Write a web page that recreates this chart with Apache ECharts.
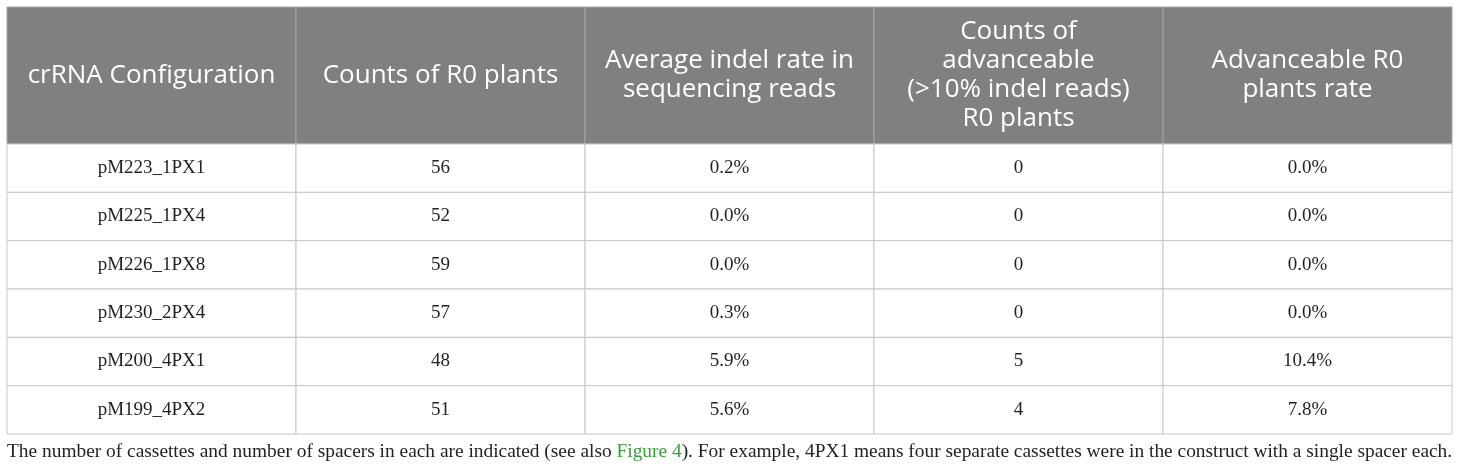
<!DOCTYPE html>
<html lang="en">
<head>
  <meta charset="UTF-8">
  <title>crRNA configuration table</title>
  <script src="https://cdn.jsdelivr.net/npm/echarts@6/dist/echarts.min.js"></script>
</head>
<body style="margin:0;width:1460px;height:471px;overflow:hidden;background:#fff;">
  <div id="main" style="width:1460px;height:471px;"></div>
</body>
<script>
  // table contents
  var headers = [
    'crRNA Configuration',
    'Counts of R0 plants',
    'Average indel rate in\nsequencing reads',
    'Counts of\nadvanceable\n(>10% indel reads)\nR0 plants',
    'Advanceable R0\nplants rate'
  ];
  var configs = ['pM223_1PX1', 'pM225_1PX4', 'pM226_1PX8', 'pM230_2PX4', 'pM200_4PX1', 'pM199_4PX2'];
  var plantCounts = [56, 52, 59, 57, 48, 51];
  var indelRates = [0.2, 0.0, 0.0, 0.3, 5.9, 5.6];
  var advanceableCounts = [0, 0, 0, 0, 5, 4];
  var advanceableRates = [0.0, 0.0, 0.0, 0.0, 10.4, 7.8];

  var colIdx = headers.map(function (h, i) { return i; });

  var headerCells = headers.map(function (h, i) { return [i, 0, h]; });
  var bodyCells = [];
  configs.forEach(function (c, r) {
    bodyCells.push([0, r, c]);
    bodyCells.push([1, r, String(plantCounts[r])]);
    bodyCells.push([2, r, indelRates[r].toFixed(1) + '%']);
    bodyCells.push([3, r, String(advanceableCounts[r])]);
    bodyCells.push([4, r, advanceableRates[r].toFixed(1) + '%']);
  });

  function cellRenderer(fill, stroke, font, size, color, lh) {
    return function (params, api) {
      var c = api.coord([api.value(0), api.value(1)]);
      var s = api.size([1, 1]);
      return {
        type: 'group',
        children: [{
          type: 'rect',
          shape: { x: c[0] - s[0] / 2, y: c[1] - s[1] / 2, width: s[0], height: s[1] },
          style: { fill: fill, stroke: stroke, lineWidth: 1 }
        }, {
          type: 'text',
          style: {
            text: api.value(2),
            x: c[0],
            y: c[1],
            align: 'center',
            verticalAlign: 'middle',
            fontFamily: font,
            fontSize: size,
            lineHeight: lh,
            fill: color
          }
        }]
      };
    };
  }

  function hiddenAxis(extra) {
    var a = {
      type: 'category',
      axisLine: { show: false },
      axisTick: { show: false },
      axisLabel: { show: false },
      splitLine: { show: false }
    };
    for (var k in extra) a[k] = extra[k];
    return a;
  }

  var myChart = echarts.init(document.getElementById('main'));

  var option = {
    animation: false,
    backgroundColor: '#ffffff',
    title: {
      left: 2,
      top: 437,
      text: '{a|The number of cassettes and number of spacers in each are indicated (see also }{g|Figure 4}{a|). For example, 4PX1 means four separate cassettes were in the construct with a single spacer each.}',
      textStyle: {
        fontWeight: 'normal',
        rich: {
          a: { fontFamily: 'Liberation Serif', fontWeight: 'normal', fontSize: 19.4, color: '#231f20' },
          g: { fontFamily: 'Liberation Serif', fontWeight: 'normal', fontSize: 19.4, color: '#3aa03a' }
        }
      }
    },
    grid: [
      { left: 7, top: 7, width: 1445, height: 137 },
      { left: 7, top: 144, width: 1445, height: 290 }
    ],
    xAxis: [
      hiddenAxis({ gridIndex: 0, data: colIdx }),
      hiddenAxis({ gridIndex: 1, data: colIdx })
    ],
    yAxis: [
      hiddenAxis({ gridIndex: 0, data: [0], inverse: true }),
      hiddenAxis({ gridIndex: 1, data: configs.map(function (c, i) { return i; }), inverse: true })
    ],
    series: [{
      type: 'custom',
      xAxisIndex: 0,
      yAxisIndex: 0,
      renderItem: cellRenderer('#7f807f', '#a3a4a3', 'Open Sans', 26, '#ffffff', 29),
      data: headerCells
    }, {
      type: 'custom',
      xAxisIndex: 1,
      yAxisIndex: 1,
      renderItem: cellRenderer('#ffffff', '#c6c6c6', 'Liberation Serif', 19, '#231f20', 22),
      data: bodyCells
    }]
  };

  myChart.setOption(option);
</script>
</html>
